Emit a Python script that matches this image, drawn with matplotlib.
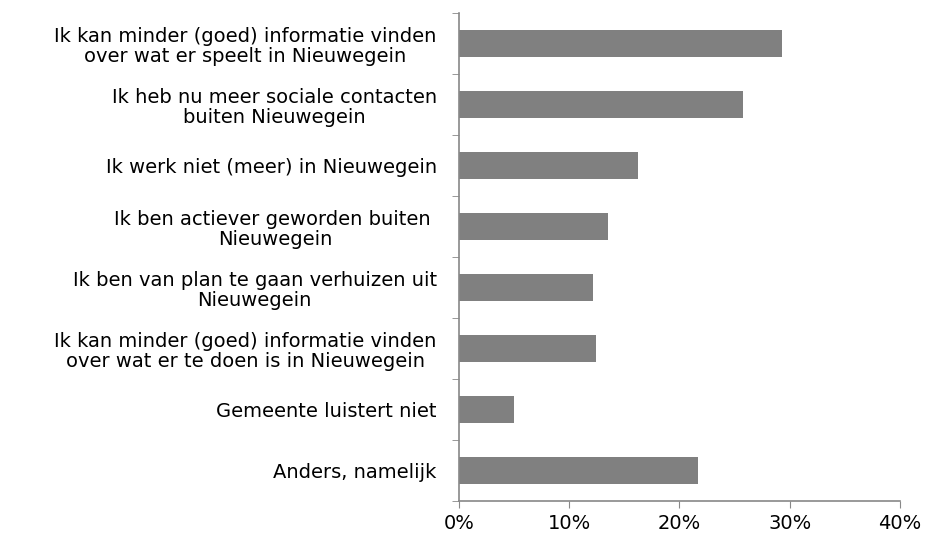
import matplotlib.pyplot as plt
import numpy as np
from matplotlib.ticker import FixedLocator

labels = [
    "Ik kan minder (goed) informatie vinden\nover wat er speelt in Nieuwegein",
    "Ik heb nu meer sociale contacten\nbuiten Nieuwegein",
    "Ik werk niet (meer) in Nieuwegein",
    "Ik ben actiever geworden buiten \nNieuwegein",
    "Ik ben van plan te gaan verhuizen uit\nNieuwegein",
    "Ik kan minder (goed) informatie vinden\nover wat er te doen is in Nieuwegein",
    "Gemeente luistert niet",
    "Anders, namelijk",
]
values = [29.3, 25.8, 16.2, 13.5, 12.2, 12.4, 5.0, 21.7]
xticks = [0, 10, 20, 30, 40]

fig = plt.figure(figsize=(9.28, 5.43), dpi=100)
ax = fig.add_axes([0.4946, 0.0773, 0.4752, 0.8987])

y = np.arange(len(labels))[::-1]
ax.barh(y, values, height=0.43, color="#808080")

ax.set_xlim(0, 40)
ax.set_ylim(-0.5, len(labels) - 0.5)
ax.set_xticks(xticks)
ax.set_xticklabels([f"{t}%" for t in xticks], fontsize=14)

ax.set_yticks(y)
ax.set_yticklabels(labels, fontsize=14, ha="right", multialignment="center",
                   linespacing=1.08)
ax.yaxis.set_minor_locator(FixedLocator(np.arange(-0.5, len(labels), 1)))
ax.tick_params(axis="y", which="major", length=0, pad=16)
ax.tick_params(axis="y", which="minor", length=5, color="#888888", direction="out")
ax.tick_params(axis="x", length=5, color="#888888", pad=4)

for s in ["top", "right"]:
    ax.spines[s].set_visible(False)
for s in ["left", "bottom"]:
    ax.spines[s].set_color("#888888")
    ax.spines[s].set_linewidth(1.2)

fig.savefig("out.png", dpi=100)
